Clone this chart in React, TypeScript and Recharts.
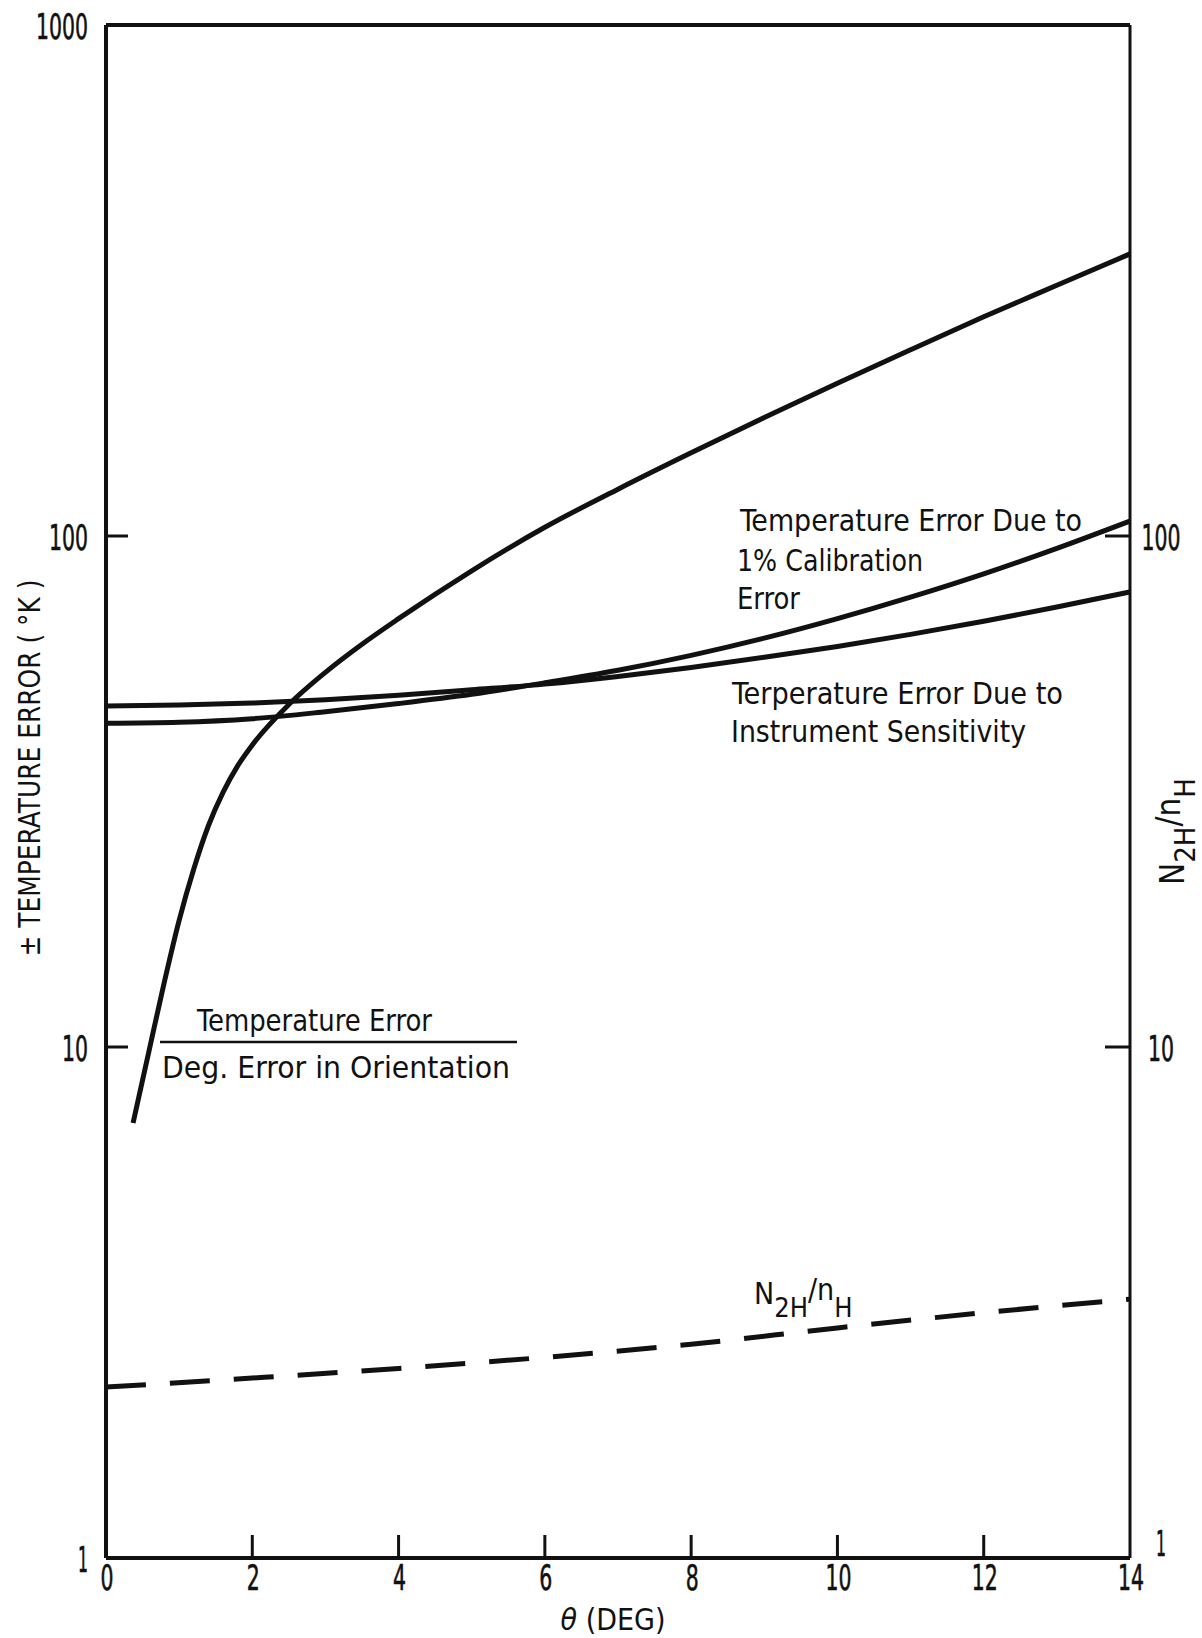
import { Line, LineChart, ReferenceLine, XAxis, YAxis } from "recharts";

const THETA_TICKS = [0, 2, 4, 6, 8, 10, 12, 14];
const LEFT_TICKS = [1, 10, 100, 1000];
const RIGHT_TICKS = [1, 10, 100];

// temperature error per degree of orientation error
const orientTheta = [0.37, 0.6, 0.8, 1.0, 1.2, 1.4, 1.6, 1.8, 2.0, 2.5, 3, 3.5, 4, 5, 6, 7, 8, 9, 10, 11, 12, 13, 14];
const orientError = [7.1, 10, 13.45, 17.7, 22.3, 27.1, 31.5, 35.5, 39, 46.8, 54.1, 61.4, 68.9, 85.5, 104, 123.5, 145.5, 170.5, 199, 231.5, 268.5, 309.5, 356.5];

// temperature error due to 1% calibration error
const calTheta = [0, 1, 2, 3, 4, 5, 6, 7, 8, 9, 10, 11, 12, 13, 14];
const calError = [43, 43.2, 43.9, 45.3, 47, 49, 51.6, 54.6, 58.4, 63.1, 68.9, 75.9, 84.3, 94.6, 107];

// temperature error due to instrument sensitivity
const instTheta = [0, 1, 2, 3, 4, 5, 6, 7, 8, 9, 10, 11, 12, 13, 14];
const instError = [46.5, 46.7, 47.1, 47.8, 48.8, 50, 51.3, 53.1, 55.3, 57.9, 60.8, 64.2, 68.1, 72.6, 77.7];

// N2H / nH ratio (right axis)
const ratioTheta = [0, 2, 4, 6, 8, 10, 12, 14];
const ratioValue = [2.16, 2.25, 2.35, 2.47, 2.62, 2.82, 3.02, 3.21];

const zip = (xs: number[], ys: number[]) => xs.map((x, i) => ({ x, y: ys[i] }));

const orientData = zip(orientTheta, orientError);
const calData = zip(calTheta, calError);
const instData = zip(instTheta, instError);
const ratioData = zip(ratioTheta, ratioValue);

const FONT = "'DejaVu Sans Condensed', 'DejaVu Sans', sans-serif";
const INK = "#111";
const textStyle = { fontStretch: "condensed" as const };

// narrow typewriter digits: width per character ("1" alone is thinner)
const numWidth = (v: number) => (v === 1 ? 10 : String(v).length * 13);

function NumLabel({ x, y, anchor, v }: { x: number; y: number; anchor: "start" | "middle" | "end"; v: number }) {
  return (
    <text
      x={x}
      y={y}
      textAnchor={anchor}
      dominantBaseline="central"
      fontFamily={FONT}
      fontSize={35}
      fill={INK}
      stroke={INK}
      strokeWidth={0.6}
      style={textStyle}
      textLength={numWidth(v)}
      lengthAdjust="spacingAndGlyphs"
    >
      {v}
    </text>
  );
}

function ThetaTick(props: any) {
  const { x, y, payload } = props;
  const v = payload.value;
  const inner = v > 0 && v < 14;
  return (
    <g>
      {inner && <line x1={x} x2={x} y1={y} y2={y - 23} stroke={INK} strokeWidth={3} />}
      <NumLabel x={x + 1} y={y + 20} anchor="middle" v={v} />
    </g>
  );
}

function LeftTick(props: any) {
  const { x, y, payload } = props;
  const v = payload.value;
  const inner = v > 1 && v < 1000;
  return (
    <g>
      {inner && <line x1={x} x2={x + 22} y1={y} y2={y} stroke={INK} strokeWidth={3} />}
      <NumLabel x={x - 18} y={y + 2} anchor="end" v={v} />
    </g>
  );
}

function RightTick(props: any) {
  const { x, y, payload } = props;
  const v = payload.value;
  const inner = v > 1 && v < 1000;
  return (
    <g>
      {inner && <line x1={x} x2={x - 25} y1={y} y2={y} stroke={INK} strokeWidth={3} />}
      <NumLabel x={x + 31} y={v === 1 ? y - 14 : y + 2} anchor="middle" v={v} />
    </g>
  );
}

function Annotations() {
  const t = { fontFamily: FONT, fontSize: 30, fill: INK, dominantBaseline: "central" as const, style: textStyle };
  return (
    <svg width={1202} height={1638} style={{ position: "absolute", left: 0, top: 0, pointerEvents: "none" }}>
      <text {...t} x={197} y={1020} textLength={235} lengthAdjust="spacingAndGlyphs">Temperature Error</text>
      <line x1={160} x2={517} y1={1042} y2={1042} stroke={INK} strokeWidth={2.5} />
      <text {...t} x={162} y={1067} textLength={348} lengthAdjust="spacingAndGlyphs">Deg. Error in Orientation</text>

      <text {...t} x={740} y={520} textLength={342} lengthAdjust="spacingAndGlyphs">Temperature Error Due to</text>
      <text {...t} x={737} y={560} textLength={186} lengthAdjust="spacingAndGlyphs">1% Calibration</text>
      <text {...t} x={737} y={598} textLength={63} lengthAdjust="spacingAndGlyphs">Error</text>

      <text {...t} x={732} y={693} textLength={331} lengthAdjust="spacingAndGlyphs">Terperature Error Due to</text>
      <text {...t} x={731} y={731} textLength={295} lengthAdjust="spacingAndGlyphs">Instrument Sensitivity</text>

      <text {...t} x={754} y={1293}>
        N<tspan dy={14} fontSize={27}>2H</tspan>
        <tspan dy={-18}>/</tspan>
        <tspan>n</tspan>
        <tspan dy={18} fontSize={27}>H</tspan>
      </text>

      <text {...t} x={613} y={1619} textAnchor="middle">
        <tspan fontStyle="italic">θ</tspan> (DEG)
      </text>

      <text {...t} fontSize={31} x={29} y={768} textAnchor="middle" transform="rotate(-90 29 768)" textLength={377} lengthAdjust="spacingAndGlyphs">
        ± TEMPERATURE ERROR ( °K )
      </text>

      <text {...t} fontSize={33} x={1172} y={885} transform="rotate(-90 1172 885)">
        N<tspan dy={13} fontSize={29}>2H</tspan>
        <tspan dy={-17}>/</tspan>
        <tspan>n</tspan>
        <tspan dy={17} fontSize={29}>H</tspan>
      </text>
    </svg>
  );
}

export default function App() {
  return (
    <div style={{ position: "absolute", left: 0, top: 0, width: 1202, height: 1638, background: "#fff" }}>
      <LineChart width={1202} height={1638} margin={{ top: 25, right: 12, bottom: 30, left: 36 }}>
        <XAxis
          dataKey="x"
          type="number"
          domain={[0, 14]}
          ticks={THETA_TICKS}
          allowDuplicatedCategory={false}
          height={50}
          tickSize={0}
          tickMargin={0}
          tick={<ThetaTick />}
          tickLine={false}
          axisLine={{ stroke: INK, strokeWidth: 4 }}
        />
        <YAxis
          yAxisId="left"
          type="number"
          scale="log"
          domain={[1, 1000]}
          allowDataOverflow
          ticks={LEFT_TICKS}
          width={70}
          tickSize={0}
          tickMargin={0}
          tick={<LeftTick />}
          tickLine={false}
          axisLine={{ stroke: INK, strokeWidth: 4 }}
        />
        <YAxis
          yAxisId="right"
          orientation="right"
          type="number"
          scale="log"
          domain={[1, 1000]}
          allowDataOverflow
          ticks={RIGHT_TICKS}
          width={60}
          tickSize={0}
          tickMargin={0}
          tick={<RightTick />}
          tickLine={false}
          axisLine={{ stroke: INK, strokeWidth: 3 }}
        />
        <ReferenceLine yAxisId="left" y={1000} stroke={INK} strokeWidth={4} />

        <Line yAxisId="left" data={orientData} dataKey="y" type="monotone" stroke={INK} strokeWidth={5} dot={false} isAnimationActive={false} />
        <Line yAxisId="left" data={calData} dataKey="y" type="monotone" stroke={INK} strokeWidth={5} dot={false} isAnimationActive={false} />
        <Line yAxisId="left" data={instData} dataKey="y" type="monotone" stroke={INK} strokeWidth={5} dot={false} isAnimationActive={false} />
        <Line yAxisId="right" data={ratioData} dataKey="y" type="monotone" stroke={INK} strokeWidth={5} strokeDasharray="40 24" dot={false} isAnimationActive={false} />
      </LineChart>
      <Annotations />
    </div>
  );
}
